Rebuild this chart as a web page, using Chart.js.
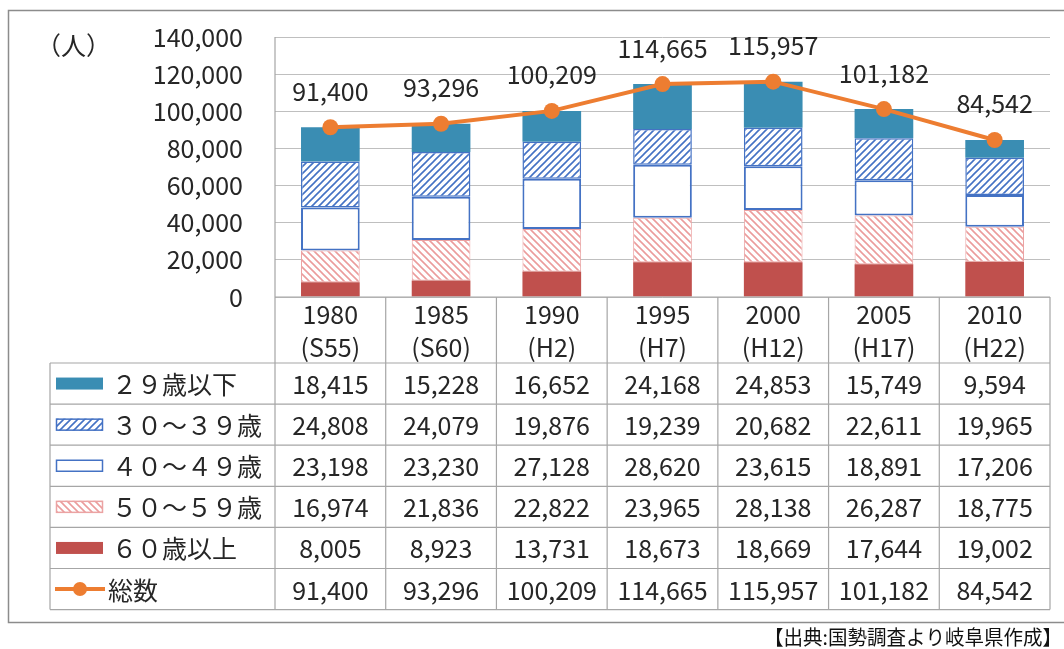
<!DOCTYPE html>
<html>
<head>
<meta charset="utf-8">
<script src="https://cdn.jsdelivr.net/npm/chart.js@4"></script>
<style>
html,body{margin:0;padding:0;background:#fff;}
canvas{display:block;}
</style>
</head>
<body>
<canvas id="c" width="1064" height="649"></canvas>
<script>
const categories = ['1980','1985','1990','1995','2000','2005','2010'];
const eraLabels = ['(S55)','(S60)','(H2)','(H7)','(H12)','(H17)','(H22)'];
const under29 = [18415,15228,16652,24168,24853,15749,9594];
const age30s = [24808,24079,19876,19239,20682,22611,19965];
const age40s = [23198,23230,27128,28620,23615,18891,17206];
const age50s = [16974,21836,22822,23965,28138,26287,18775];
const over60 = [8005,8923,13731,18673,18669,17644,19002];
const totals = [91400,93296,100209,114665,115957,101182,84542];
const seriesNames = ['２９歳以下','３０～３９歳','４０～４９歳','５０～５９歳','６０歳以上','総数'];
const yAxisTitle = '（人）';
const yMax = 140000, yStep = 20000;
const caption = '【出典:国勢調査より岐阜県作成】';

const FONT = "'Noto Sans CJK JP', 'Noto Sans', sans-serif";
const TEXT = '#262626';

function hatch(color, bg, dir, size, lw){
  const c = document.createElement('canvas');
  c.width = size; c.height = size;
  const g = c.getContext('2d');
  g.fillStyle = bg; g.fillRect(0,0,size,size);
  g.strokeStyle = color; g.lineWidth = lw;
  g.beginPath();
  if(dir === '/'){
    g.moveTo(-1, size+1); g.lineTo(size+1, -1);
    g.moveTo(-1, 1); g.lineTo(1, -1);
    g.moveTo(size-1, size+1); g.lineTo(size+1, size-1);
  } else {
    g.moveTo(-1, -1); g.lineTo(size+1, size+1);
    g.moveTo(size-1, -1); g.lineTo(size+1, 1);
    g.moveTo(-1, size-1); g.lineTo(1, size+1);
  }
  g.stroke();
  return document.getElementById('c').getContext('2d').createPattern(c, 'repeat');
}

const C29 = '#3a8db3';
const BLUE = '#4472c4';
const PINK = '#eba3a3';
const RED = '#c0504d';
const ORANGE = '#ed7d31';
const pat30 = hatch('#4472c4', '#ffffff', '/', 7, 1.6);
const pat50 = hatch('#eb9c9c', '#ffffff', '\\', 7, 1.6);

const styles = [
  {bg: C29, border: C29, bw: 0},
  {bg: pat30, border: BLUE, bw: 1.5},
  {bg: '#ffffff', border: BLUE, bw: 2},
  {bg: pat50, border: PINK, bw: 1},
  {bg: RED, border: RED, bw: 0}
];
const tableRows = [under29, age30s, age40s, age50s, over60, totals];

const fmt = v => v.toLocaleString('en-US');

const tablePlugin = {
  id: 'tablePlugin',
  afterDraw(chart){
    const ctx = chart.ctx;
    const ca = chart.chartArea;
    const xs = chart.scales.x;
    const n = categories.length;
    const colW = (ca.right - ca.left) / n;
    const headTop = ca.bottom;
    const headBottom = headTop + 66;
    const rowH = 41.1;
    const tableBottom = headBottom + rowH * tableRows.length;
    const tableLeft = 50;

    ctx.save();
    // outer frame
    ctx.strokeStyle = '#8c8c8c';
    ctx.lineWidth = 1.5;
    ctx.strokeRect(8.5, 10.5, 1100, 612);

    // table lines
    ctx.strokeStyle = '#a6a6a6';
    ctx.lineWidth = 1.2;
    ctx.beginPath();
    ctx.moveTo(ca.left, ca.top); ctx.lineTo(ca.left, tableBottom);
    for(let i=1;i<=n;i++){
      const x = ca.left + i*colW;
      ctx.moveTo(x, headTop); ctx.lineTo(x, tableBottom);
    }
    ctx.moveTo(ca.left, headTop); ctx.lineTo(ca.right, headTop);
    for(let r=0;r<=tableRows.length;r++){
      const y = headBottom + r*rowH;
      ctx.moveTo(tableLeft, y); ctx.lineTo(ca.right, y);
    }
    ctx.moveTo(tableLeft, headBottom); ctx.lineTo(tableLeft, tableBottom);
    ctx.stroke();

    // category labels
    ctx.fillStyle = TEXT;
    ctx.font = '25px ' + FONT;
    ctx.textAlign = 'center';
    ctx.textBaseline = 'middle';
    for(let i=0;i<n;i++){
      const x = xs.getPixelForValue(i);
      ctx.fillText(categories[i], x, headTop + 17);
      ctx.fillText(eraLabels[i], x, headTop + 50);
    }

    // rows
    for(let r=0;r<tableRows.length;r++){
      const yc = headBottom + r*rowH + rowH/2;
      for(let i=0;i<n;i++){
        ctx.fillStyle = TEXT;
        ctx.textAlign = 'center';
        ctx.fillText(fmt(tableRows[r][i]), xs.getPixelForValue(i), yc + 1);
      }
      if(r < 5){
        const st = styles[r];
        const sx = 56, sy = yc - 6, sw = 47, sh = 12;
        ctx.fillStyle = st.bg;
        ctx.fillRect(sx, sy, sw, sh);
        if(st.bw > 0){
          ctx.strokeStyle = st.border;
          ctx.lineWidth = 1.5;
          ctx.strokeRect(sx+0.5, sy+0.5, sw-1, sh-1);
        }
        ctx.fillStyle = TEXT;
        ctx.textAlign = 'left';
        ctx.fillText(seriesNames[r], 112, yc + 1);
      } else {
        ctx.strokeStyle = ORANGE;
        ctx.lineWidth = 4;
        ctx.beginPath();
        ctx.moveTo(55, yc); ctx.lineTo(105, yc);
        ctx.stroke();
        ctx.fillStyle = ORANGE;
        ctx.beginPath();
        ctx.arc(80, yc, 7, 0, Math.PI*2);
        ctx.fill();
        ctx.fillStyle = TEXT;
        ctx.textAlign = 'left';
        ctx.fillText(seriesNames[r], 108, yc + 1);
      }
    }

    // y axis title
    ctx.textAlign = 'left';
    ctx.fillStyle = TEXT;
    ctx.font = '25px ' + FONT;
    ctx.fillText(yAxisTitle, 36, 45);

    // caption
    ctx.font = '20px ' + FONT;
    const w = ctx.measureText(caption).width;
    const target = 298;
    ctx.save();
    ctx.translate(1062, 637);
    ctx.scale(target / w, 1);
    ctx.textAlign = 'right';
    ctx.fillStyle = '#111';
    ctx.fillText(caption, 0, 0);
    ctx.restore();

    ctx.restore();
  },
  afterDatasetsDraw(chart){
    const ctx = chart.ctx;
    const meta = chart.getDatasetMeta(5);
    ctx.save();
    ctx.fillStyle = TEXT;
    ctx.font = '25px ' + FONT;
    ctx.textAlign = 'center';
    ctx.textBaseline = 'middle';
    meta.data.forEach((pt, i) => {
      ctx.fillText(fmt(totals[i]), pt.x, pt.y - 36);
    });
    ctx.restore();
  }
};

const barDs = (label, data, st) => ({
  type: 'bar', label, data,
  backgroundColor: st.bg, borderColor: st.border, borderWidth: st.bw,
  borderSkipped: false,
  categoryPercentage: 1.0, barPercentage: 0.53, order: 1, stack: 's'
});

new Chart(document.getElementById('c'), {
  data: {
    labels: categories,
    datasets: [
      barDs(seriesNames[4], over60, styles[4]),
      barDs(seriesNames[3], age50s, styles[3]),
      barDs(seriesNames[2], age40s, styles[2]),
      barDs(seriesNames[1], age30s, styles[1]),
      barDs(seriesNames[0], under29, styles[0]),
      {
        type: 'line', label: seriesNames[5], data: totals,
        borderColor: ORANGE, backgroundColor: ORANGE, borderWidth: 4,
        pointRadius: 8, pointHoverRadius: 8, pointBackgroundColor: ORANGE,
        pointBorderWidth: 0, tension: 0, order: 0
      }
    ]
  },
  options: {
    responsive: false,
    animation: false,
    devicePixelRatio: 1,
    layout: { padding: { left: 0, right: 14, top: 37, bottom: 352 } },
    plugins: { legend: { display: false }, tooltip: { enabled: false } },
    scales: {
      x: { display: false, stacked: true, offset: true },
      y: {
        stacked: true, min: 0, max: yMax,
        afterFit(scale){ scale.width = 275; },
        border: { display: false },
        grid: { color: '#bfbfbf', lineWidth: 1, drawTicks: true, tickLength: 32, tickColor: 'rgba(0,0,0,0)' },
        ticks: {
          stepSize: yStep, padding: 0, color: TEXT,
          font: { family: FONT, size: 25 },
          callback: v => fmt(v)
        }
      }
    }
  },
  plugins: [tablePlugin]
});
</script>
</body>
</html>
